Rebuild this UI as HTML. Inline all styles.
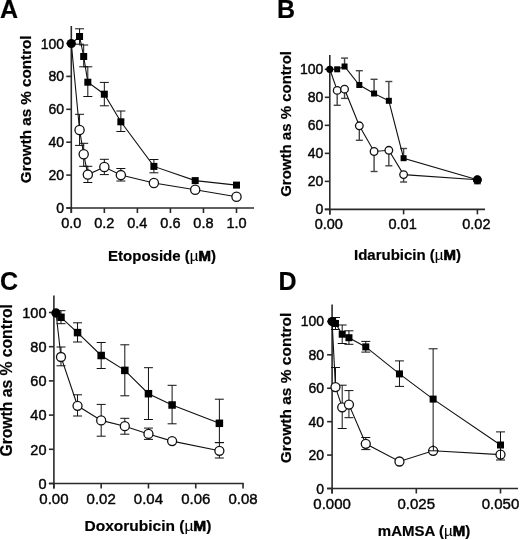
<!DOCTYPE html><html><head><meta charset="utf-8"><style>html,body{margin:0;padding:0;background:#fff;}svg{display:block;filter:grayscale(1) blur(0.3px);}text{font-family:"Liberation Sans", sans-serif;fill:#000;}text{stroke:#000;stroke-width:0.2px;}text.n{stroke:#111;stroke-width:0.45px;}tspan.mu{stroke-width:0.1px;}tspan.mm{stroke-width:0.7px;}</style></head><body>
<svg width="520" height="540" viewBox="0 0 520 540">
<rect width="520" height="540" fill="#fff"/>
<text x="0.00" y="17.50" font-size="25" text-anchor="start" font-weight="bold" >A</text>
<text transform="translate(31.00,109.30) rotate(-90)" font-size="15.2" text-anchor="middle" font-weight="bold">Growth as % control</text>
<text x="162.00" y="260.50" font-size="15" text-anchor="middle" font-weight="bold">Etoposide (<tspan font-weight="normal" class="mu">µ</tspan><tspan class="mm">M</tspan>)</text>
<line x1="71.30" y1="26.00" x2="71.30" y2="213.00" stroke="#2a2a2a" stroke-width="1.6"/>
<line x1="66.30" y1="208.00" x2="254.00" y2="208.00" stroke="#2a2a2a" stroke-width="1.6"/>
<line x1="66.30" y1="208.00" x2="71.30" y2="208.00" stroke="#2a2a2a" stroke-width="1.6"/>
<text x="64.00" y="213.00" font-size="14" text-anchor="end" font-weight="normal"  class="n">0</text>
<line x1="66.30" y1="175.10" x2="71.30" y2="175.10" stroke="#2a2a2a" stroke-width="1.6"/>
<text x="64.00" y="180.10" font-size="14" text-anchor="end" font-weight="normal"  class="n">20</text>
<line x1="66.30" y1="142.20" x2="71.30" y2="142.20" stroke="#2a2a2a" stroke-width="1.6"/>
<text x="64.00" y="147.20" font-size="14" text-anchor="end" font-weight="normal"  class="n">40</text>
<line x1="66.30" y1="109.30" x2="71.30" y2="109.30" stroke="#2a2a2a" stroke-width="1.6"/>
<text x="64.00" y="114.30" font-size="14" text-anchor="end" font-weight="normal"  class="n">60</text>
<line x1="66.30" y1="76.40" x2="71.30" y2="76.40" stroke="#2a2a2a" stroke-width="1.6"/>
<text x="64.00" y="81.40" font-size="14" text-anchor="end" font-weight="normal"  class="n">80</text>
<line x1="66.30" y1="43.50" x2="71.30" y2="43.50" stroke="#2a2a2a" stroke-width="1.6"/>
<text x="64.00" y="48.50" font-size="14" text-anchor="end" font-weight="normal"  class="n">100</text>
<line x1="71.30" y1="208.00" x2="71.30" y2="213.00" stroke="#2a2a2a" stroke-width="1.6"/>
<text x="71.30" y="228.30" font-size="14.5" text-anchor="middle" font-weight="normal"  class="n">0.0</text>
<line x1="104.34" y1="208.00" x2="104.34" y2="213.00" stroke="#2a2a2a" stroke-width="1.6"/>
<text x="104.34" y="228.30" font-size="14.5" text-anchor="middle" font-weight="normal"  class="n">0.2</text>
<line x1="137.38" y1="208.00" x2="137.38" y2="213.00" stroke="#2a2a2a" stroke-width="1.6"/>
<text x="137.38" y="228.30" font-size="14.5" text-anchor="middle" font-weight="normal"  class="n">0.4</text>
<line x1="170.42" y1="208.00" x2="170.42" y2="213.00" stroke="#2a2a2a" stroke-width="1.6"/>
<text x="170.42" y="228.30" font-size="14.5" text-anchor="middle" font-weight="normal"  class="n">0.6</text>
<line x1="203.46" y1="208.00" x2="203.46" y2="213.00" stroke="#2a2a2a" stroke-width="1.6"/>
<text x="203.46" y="228.30" font-size="14.5" text-anchor="middle" font-weight="normal"  class="n">0.8</text>
<line x1="236.50" y1="208.00" x2="236.50" y2="213.00" stroke="#2a2a2a" stroke-width="1.6"/>
<text x="236.50" y="228.30" font-size="14.5" text-anchor="middle" font-weight="normal"  class="n">1.0</text>
<line x1="79.56" y1="36.50" x2="79.56" y2="28.80" stroke="#111" stroke-width="1.0"/>
<line x1="75.06" y1="28.80" x2="84.06" y2="28.80" stroke="#111" stroke-width="1.0"/>
<line x1="79.56" y1="36.50" x2="79.56" y2="44.20" stroke="#111" stroke-width="1.0"/>
<line x1="75.06" y1="44.20" x2="84.06" y2="44.20" stroke="#111" stroke-width="1.0"/>
<line x1="83.69" y1="56.50" x2="83.69" y2="45.00" stroke="#111" stroke-width="1.0"/>
<line x1="79.19" y1="45.00" x2="88.19" y2="45.00" stroke="#111" stroke-width="1.0"/>
<line x1="83.69" y1="56.50" x2="83.69" y2="66.80" stroke="#111" stroke-width="1.0"/>
<line x1="79.19" y1="66.80" x2="88.19" y2="66.80" stroke="#111" stroke-width="1.0"/>
<line x1="87.82" y1="82.20" x2="87.82" y2="66.80" stroke="#111" stroke-width="1.0"/>
<line x1="83.32" y1="66.80" x2="92.32" y2="66.80" stroke="#111" stroke-width="1.0"/>
<line x1="87.82" y1="82.20" x2="87.82" y2="96.50" stroke="#111" stroke-width="1.0"/>
<line x1="83.32" y1="96.50" x2="92.32" y2="96.50" stroke="#111" stroke-width="1.0"/>
<line x1="104.34" y1="94.20" x2="104.34" y2="82.40" stroke="#111" stroke-width="1.0"/>
<line x1="99.84" y1="82.40" x2="108.84" y2="82.40" stroke="#111" stroke-width="1.0"/>
<line x1="104.34" y1="94.20" x2="104.34" y2="105.80" stroke="#111" stroke-width="1.0"/>
<line x1="99.84" y1="105.80" x2="108.84" y2="105.80" stroke="#111" stroke-width="1.0"/>
<line x1="120.86" y1="121.80" x2="120.86" y2="111.00" stroke="#111" stroke-width="1.0"/>
<line x1="116.36" y1="111.00" x2="125.36" y2="111.00" stroke="#111" stroke-width="1.0"/>
<line x1="120.86" y1="121.80" x2="120.86" y2="131.50" stroke="#111" stroke-width="1.0"/>
<line x1="116.36" y1="131.50" x2="125.36" y2="131.50" stroke="#111" stroke-width="1.0"/>
<line x1="153.90" y1="166.40" x2="153.90" y2="159.50" stroke="#111" stroke-width="1.0"/>
<line x1="149.40" y1="159.50" x2="158.40" y2="159.50" stroke="#111" stroke-width="1.0"/>
<line x1="153.90" y1="166.40" x2="153.90" y2="172.80" stroke="#111" stroke-width="1.0"/>
<line x1="149.40" y1="172.80" x2="158.40" y2="172.80" stroke="#111" stroke-width="1.0"/>
<line x1="79.56" y1="130.00" x2="79.56" y2="114.30" stroke="#111" stroke-width="1.0"/>
<line x1="75.06" y1="114.30" x2="84.06" y2="114.30" stroke="#111" stroke-width="1.0"/>
<line x1="79.56" y1="130.00" x2="79.56" y2="145.40" stroke="#111" stroke-width="1.0"/>
<line x1="75.06" y1="145.40" x2="84.06" y2="145.40" stroke="#111" stroke-width="1.0"/>
<line x1="83.69" y1="154.30" x2="83.69" y2="143.30" stroke="#111" stroke-width="1.0"/>
<line x1="79.19" y1="143.30" x2="88.19" y2="143.30" stroke="#111" stroke-width="1.0"/>
<line x1="83.69" y1="154.30" x2="83.69" y2="166.30" stroke="#111" stroke-width="1.0"/>
<line x1="79.19" y1="166.30" x2="88.19" y2="166.30" stroke="#111" stroke-width="1.0"/>
<line x1="87.82" y1="174.60" x2="87.82" y2="166.30" stroke="#111" stroke-width="1.0"/>
<line x1="83.32" y1="166.30" x2="92.32" y2="166.30" stroke="#111" stroke-width="1.0"/>
<line x1="87.82" y1="174.60" x2="87.82" y2="182.50" stroke="#111" stroke-width="1.0"/>
<line x1="83.32" y1="182.50" x2="92.32" y2="182.50" stroke="#111" stroke-width="1.0"/>
<line x1="104.34" y1="167.00" x2="104.34" y2="159.30" stroke="#111" stroke-width="1.0"/>
<line x1="99.84" y1="159.30" x2="108.84" y2="159.30" stroke="#111" stroke-width="1.0"/>
<line x1="104.34" y1="167.00" x2="104.34" y2="174.60" stroke="#111" stroke-width="1.0"/>
<line x1="99.84" y1="174.60" x2="108.84" y2="174.60" stroke="#111" stroke-width="1.0"/>
<line x1="120.86" y1="175.10" x2="120.86" y2="168.50" stroke="#111" stroke-width="1.0"/>
<line x1="116.36" y1="168.50" x2="125.36" y2="168.50" stroke="#111" stroke-width="1.0"/>
<line x1="120.86" y1="175.10" x2="120.86" y2="181.00" stroke="#111" stroke-width="1.0"/>
<line x1="116.36" y1="181.00" x2="125.36" y2="181.00" stroke="#111" stroke-width="1.0"/>
<polyline fill="none" stroke="#111" stroke-width="1.1" points="71.30,43.50 79.56,130.00 83.69,154.30 87.82,174.60 104.34,167.00 120.86,175.10 153.90,183.00 195.20,189.70 236.50,196.70"/>
<polyline fill="none" stroke="#111" stroke-width="1.1" points="71.30,43.50 79.56,36.50 83.69,56.50 87.82,82.20 104.34,94.20 120.86,121.80 153.90,166.40 195.20,180.60 236.50,185.10"/>
<circle cx="79.56" cy="130.00" r="4.6" fill="#fff" stroke="#111" stroke-width="1.3"/>
<circle cx="83.69" cy="154.30" r="4.6" fill="#fff" stroke="#111" stroke-width="1.3"/>
<circle cx="87.82" cy="174.60" r="4.6" fill="#fff" stroke="#111" stroke-width="1.3"/>
<circle cx="104.34" cy="167.00" r="4.6" fill="#fff" stroke="#111" stroke-width="1.3"/>
<circle cx="120.86" cy="175.10" r="4.6" fill="#fff" stroke="#111" stroke-width="1.3"/>
<circle cx="153.90" cy="183.00" r="4.6" fill="#fff" stroke="#111" stroke-width="1.3"/>
<circle cx="195.20" cy="189.70" r="4.6" fill="#fff" stroke="#111" stroke-width="1.3"/>
<circle cx="236.50" cy="196.70" r="4.6" fill="#fff" stroke="#111" stroke-width="1.3"/>
<rect x="76.06" y="33.00" width="7" height="7" fill="#000"/>
<rect x="80.19" y="53.00" width="7" height="7" fill="#000"/>
<rect x="84.32" y="78.70" width="7" height="7" fill="#000"/>
<rect x="100.84" y="90.70" width="7" height="7" fill="#000"/>
<rect x="117.36" y="118.30" width="7" height="7" fill="#000"/>
<rect x="150.40" y="162.90" width="7" height="7" fill="#000"/>
<rect x="191.70" y="177.10" width="7" height="7" fill="#000"/>
<rect x="233.00" y="181.60" width="7" height="7" fill="#000"/>
<circle cx="71.30" cy="43.50" r="4.6" fill="#000"/>
<text x="277.00" y="17.50" font-size="25" text-anchor="start" font-weight="bold" >B</text>
<text transform="translate(290.80,123.90) rotate(-90)" font-size="15" text-anchor="middle" font-weight="bold">Growth as % control</text>
<text x="407.50" y="260.00" font-size="15" text-anchor="middle" font-weight="bold">Idarubicin (<tspan font-weight="normal" class="mu">µ</tspan><tspan class="mm">M</tspan>)</text>
<line x1="329.80" y1="55.00" x2="329.80" y2="214.40" stroke="#2a2a2a" stroke-width="1.6"/>
<line x1="324.80" y1="209.40" x2="485.00" y2="209.40" stroke="#2a2a2a" stroke-width="1.6"/>
<line x1="324.80" y1="209.40" x2="329.80" y2="209.40" stroke="#2a2a2a" stroke-width="1.6"/>
<text x="323.30" y="214.40" font-size="14" text-anchor="end" font-weight="normal"  class="n">0</text>
<line x1="324.80" y1="181.38" x2="329.80" y2="181.38" stroke="#2a2a2a" stroke-width="1.6"/>
<text x="323.30" y="186.38" font-size="14" text-anchor="end" font-weight="normal"  class="n">20</text>
<line x1="324.80" y1="153.36" x2="329.80" y2="153.36" stroke="#2a2a2a" stroke-width="1.6"/>
<text x="323.30" y="158.36" font-size="14" text-anchor="end" font-weight="normal"  class="n">40</text>
<line x1="324.80" y1="125.34" x2="329.80" y2="125.34" stroke="#2a2a2a" stroke-width="1.6"/>
<text x="323.30" y="130.34" font-size="14" text-anchor="end" font-weight="normal"  class="n">60</text>
<line x1="324.80" y1="97.32" x2="329.80" y2="97.32" stroke="#2a2a2a" stroke-width="1.6"/>
<text x="323.30" y="102.32" font-size="14" text-anchor="end" font-weight="normal"  class="n">80</text>
<line x1="324.80" y1="69.30" x2="329.80" y2="69.30" stroke="#2a2a2a" stroke-width="1.6"/>
<text x="323.30" y="74.30" font-size="14" text-anchor="end" font-weight="normal"  class="n">100</text>
<line x1="329.80" y1="209.40" x2="329.80" y2="214.40" stroke="#2a2a2a" stroke-width="1.6"/>
<text x="328.80" y="228.50" font-size="14.5" text-anchor="middle" font-weight="normal"  class="n">0.00</text>
<line x1="403.60" y1="209.40" x2="403.60" y2="214.40" stroke="#2a2a2a" stroke-width="1.6"/>
<text x="402.60" y="228.50" font-size="14.5" text-anchor="middle" font-weight="normal"  class="n">0.01</text>
<line x1="477.40" y1="209.40" x2="477.40" y2="214.40" stroke="#2a2a2a" stroke-width="1.6"/>
<text x="476.40" y="228.50" font-size="14.5" text-anchor="middle" font-weight="normal"  class="n">0.02</text>
<line x1="344.56" y1="66.50" x2="344.56" y2="58.10" stroke="#444" stroke-width="1.4"/>
<line x1="341.06" y1="58.10" x2="348.06" y2="58.10" stroke="#444" stroke-width="1.4"/>
<line x1="359.32" y1="85.00" x2="359.32" y2="70.70" stroke="#444" stroke-width="1.4"/>
<line x1="355.82" y1="70.70" x2="362.82" y2="70.70" stroke="#444" stroke-width="1.4"/>
<line x1="374.08" y1="93.50" x2="374.08" y2="79.30" stroke="#444" stroke-width="1.4"/>
<line x1="370.58" y1="79.30" x2="377.58" y2="79.30" stroke="#444" stroke-width="1.4"/>
<line x1="388.84" y1="100.80" x2="388.84" y2="81.50" stroke="#444" stroke-width="1.4"/>
<line x1="385.34" y1="81.50" x2="392.34" y2="81.50" stroke="#444" stroke-width="1.4"/>
<line x1="403.60" y1="158.20" x2="403.60" y2="148.50" stroke="#444" stroke-width="1.4"/>
<line x1="400.10" y1="148.50" x2="407.10" y2="148.50" stroke="#444" stroke-width="1.4"/>
<line x1="337.18" y1="90.40" x2="337.18" y2="105.30" stroke="#444" stroke-width="1.4"/>
<line x1="333.68" y1="105.30" x2="340.68" y2="105.30" stroke="#444" stroke-width="1.4"/>
<line x1="344.56" y1="89.20" x2="344.56" y2="98.40" stroke="#444" stroke-width="1.4"/>
<line x1="341.06" y1="98.40" x2="348.06" y2="98.40" stroke="#444" stroke-width="1.4"/>
<line x1="359.32" y1="125.80" x2="359.32" y2="140.30" stroke="#444" stroke-width="1.4"/>
<line x1="355.82" y1="140.30" x2="362.82" y2="140.30" stroke="#444" stroke-width="1.4"/>
<line x1="374.08" y1="151.50" x2="374.08" y2="171.50" stroke="#444" stroke-width="1.4"/>
<line x1="370.58" y1="171.50" x2="377.58" y2="171.50" stroke="#444" stroke-width="1.4"/>
<line x1="388.84" y1="150.30" x2="388.84" y2="165.80" stroke="#444" stroke-width="1.4"/>
<line x1="385.34" y1="165.80" x2="392.34" y2="165.80" stroke="#444" stroke-width="1.4"/>
<line x1="403.60" y1="174.60" x2="403.60" y2="182.00" stroke="#444" stroke-width="1.4"/>
<line x1="400.10" y1="182.00" x2="407.10" y2="182.00" stroke="#444" stroke-width="1.4"/>
<line x1="477.40" y1="179.80" x2="477.40" y2="183.70" stroke="#444" stroke-width="1.4"/>
<line x1="473.90" y1="183.70" x2="480.90" y2="183.70" stroke="#444" stroke-width="1.4"/>
<polyline fill="none" stroke="#111" stroke-width="1.1" points="329.80,69.30 337.18,90.40 344.56,89.20 359.32,125.80 374.08,151.50 388.84,150.30 403.60,174.60 477.40,179.80"/>
<polyline fill="none" stroke="#111" stroke-width="1.1" points="329.80,69.30 337.18,69.30 344.56,66.50 359.32,85.00 374.08,93.50 388.84,100.80 403.60,158.20 477.40,179.80"/>
<circle cx="337.18" cy="90.40" r="3.8" fill="#fff" stroke="#111" stroke-width="1.3"/>
<circle cx="344.56" cy="89.20" r="3.8" fill="#fff" stroke="#111" stroke-width="1.3"/>
<circle cx="359.32" cy="125.80" r="3.8" fill="#fff" stroke="#111" stroke-width="1.3"/>
<circle cx="374.08" cy="151.50" r="3.8" fill="#fff" stroke="#111" stroke-width="1.3"/>
<circle cx="388.84" cy="150.30" r="3.8" fill="#fff" stroke="#111" stroke-width="1.3"/>
<circle cx="403.60" cy="174.60" r="3.8" fill="#fff" stroke="#111" stroke-width="1.3"/>
<circle cx="477.40" cy="179.80" r="3.8" fill="#fff" stroke="#111" stroke-width="1.3"/>
<rect x="334.18" y="66.30" width="6" height="6" fill="#000"/>
<rect x="341.56" y="63.50" width="6" height="6" fill="#000"/>
<rect x="356.32" y="82.00" width="6" height="6" fill="#000"/>
<rect x="371.08" y="90.50" width="6" height="6" fill="#000"/>
<rect x="385.84" y="97.80" width="6" height="6" fill="#000"/>
<rect x="400.60" y="155.20" width="6" height="6" fill="#000"/>
<rect x="474.40" y="176.80" width="6" height="6" fill="#000"/>
<circle cx="329.80" cy="69.30" r="3.6" fill="#000"/>
<circle cx="477.3" cy="179.8" r="4.3" fill="#000"/>
<text x="0.00" y="290.20" font-size="25" text-anchor="start" font-weight="bold" >C</text>
<text transform="translate(12.00,380.30) rotate(-90)" font-size="15.7" text-anchor="middle" font-weight="bold">Growth as % control</text>
<text x="148.00" y="531.20" font-size="15.5" text-anchor="middle" font-weight="bold">Doxorubicin (<tspan font-weight="normal" class="mu">µ</tspan><tspan class="mm">M</tspan>)</text>
<line x1="53.90" y1="295.50" x2="53.90" y2="488.50" stroke="#2a2a2a" stroke-width="1.6"/>
<line x1="48.90" y1="483.50" x2="243.80" y2="483.50" stroke="#2a2a2a" stroke-width="1.6"/>
<line x1="48.90" y1="483.50" x2="53.90" y2="483.50" stroke="#2a2a2a" stroke-width="1.6"/>
<text x="46.50" y="488.70" font-size="14.5" text-anchor="end" font-weight="normal"  class="n">0</text>
<line x1="48.90" y1="449.30" x2="53.90" y2="449.30" stroke="#2a2a2a" stroke-width="1.6"/>
<text x="46.50" y="454.50" font-size="14.5" text-anchor="end" font-weight="normal"  class="n">20</text>
<line x1="48.90" y1="415.10" x2="53.90" y2="415.10" stroke="#2a2a2a" stroke-width="1.6"/>
<text x="46.50" y="420.30" font-size="14.5" text-anchor="end" font-weight="normal"  class="n">40</text>
<line x1="48.90" y1="380.90" x2="53.90" y2="380.90" stroke="#2a2a2a" stroke-width="1.6"/>
<text x="46.50" y="386.10" font-size="14.5" text-anchor="end" font-weight="normal"  class="n">60</text>
<line x1="48.90" y1="346.70" x2="53.90" y2="346.70" stroke="#2a2a2a" stroke-width="1.6"/>
<text x="46.50" y="351.90" font-size="14.5" text-anchor="end" font-weight="normal"  class="n">80</text>
<line x1="48.90" y1="312.50" x2="53.90" y2="312.50" stroke="#2a2a2a" stroke-width="1.6"/>
<text x="46.50" y="317.70" font-size="14.5" text-anchor="end" font-weight="normal"  class="n">100</text>
<line x1="53.90" y1="483.50" x2="53.90" y2="488.50" stroke="#2a2a2a" stroke-width="1.6"/>
<text x="53.90" y="503.80" font-size="15" text-anchor="middle" font-weight="normal"  class="n">0.00</text>
<line x1="101.18" y1="483.50" x2="101.18" y2="488.50" stroke="#2a2a2a" stroke-width="1.6"/>
<text x="101.18" y="503.80" font-size="15" text-anchor="middle" font-weight="normal"  class="n">0.02</text>
<line x1="148.46" y1="483.50" x2="148.46" y2="488.50" stroke="#2a2a2a" stroke-width="1.6"/>
<text x="148.46" y="503.80" font-size="15" text-anchor="middle" font-weight="normal"  class="n">0.04</text>
<line x1="195.74" y1="483.50" x2="195.74" y2="488.50" stroke="#2a2a2a" stroke-width="1.6"/>
<text x="195.74" y="503.80" font-size="15" text-anchor="middle" font-weight="normal"  class="n">0.06</text>
<line x1="243.02" y1="483.50" x2="243.02" y2="488.50" stroke="#2a2a2a" stroke-width="1.6"/>
<text x="243.02" y="503.80" font-size="15" text-anchor="middle" font-weight="normal"  class="n">0.08</text>
<line x1="60.99" y1="317.30" x2="60.99" y2="310.70" stroke="#111" stroke-width="1.0"/>
<line x1="56.49" y1="310.70" x2="65.49" y2="310.70" stroke="#111" stroke-width="1.0"/>
<line x1="60.99" y1="317.30" x2="60.99" y2="323.70" stroke="#111" stroke-width="1.0"/>
<line x1="56.49" y1="323.70" x2="65.49" y2="323.70" stroke="#111" stroke-width="1.0"/>
<line x1="77.54" y1="332.60" x2="77.54" y2="322.80" stroke="#111" stroke-width="1.0"/>
<line x1="73.04" y1="322.80" x2="82.04" y2="322.80" stroke="#111" stroke-width="1.0"/>
<line x1="77.54" y1="332.60" x2="77.54" y2="342.00" stroke="#111" stroke-width="1.0"/>
<line x1="73.04" y1="342.00" x2="82.04" y2="342.00" stroke="#111" stroke-width="1.0"/>
<line x1="101.18" y1="355.50" x2="101.18" y2="342.50" stroke="#111" stroke-width="1.0"/>
<line x1="96.68" y1="342.50" x2="105.68" y2="342.50" stroke="#111" stroke-width="1.0"/>
<line x1="101.18" y1="355.50" x2="101.18" y2="368.50" stroke="#111" stroke-width="1.0"/>
<line x1="96.68" y1="368.50" x2="105.68" y2="368.50" stroke="#111" stroke-width="1.0"/>
<line x1="124.82" y1="370.40" x2="124.82" y2="344.80" stroke="#111" stroke-width="1.0"/>
<line x1="120.32" y1="344.80" x2="129.32" y2="344.80" stroke="#111" stroke-width="1.0"/>
<line x1="124.82" y1="370.40" x2="124.82" y2="395.80" stroke="#111" stroke-width="1.0"/>
<line x1="120.32" y1="395.80" x2="129.32" y2="395.80" stroke="#111" stroke-width="1.0"/>
<line x1="148.46" y1="393.70" x2="148.46" y2="367.70" stroke="#111" stroke-width="1.0"/>
<line x1="143.96" y1="367.70" x2="152.96" y2="367.70" stroke="#111" stroke-width="1.0"/>
<line x1="148.46" y1="393.70" x2="148.46" y2="419.50" stroke="#111" stroke-width="1.0"/>
<line x1="143.96" y1="419.50" x2="152.96" y2="419.50" stroke="#111" stroke-width="1.0"/>
<line x1="172.10" y1="405.00" x2="172.10" y2="385.30" stroke="#111" stroke-width="1.0"/>
<line x1="167.60" y1="385.30" x2="176.60" y2="385.30" stroke="#111" stroke-width="1.0"/>
<line x1="172.10" y1="405.00" x2="172.10" y2="423.80" stroke="#111" stroke-width="1.0"/>
<line x1="167.60" y1="423.80" x2="176.60" y2="423.80" stroke="#111" stroke-width="1.0"/>
<line x1="219.38" y1="423.30" x2="219.38" y2="399.20" stroke="#111" stroke-width="1.0"/>
<line x1="214.88" y1="399.20" x2="223.88" y2="399.20" stroke="#111" stroke-width="1.0"/>
<line x1="219.38" y1="423.30" x2="219.38" y2="442.60" stroke="#111" stroke-width="1.0"/>
<line x1="214.88" y1="442.60" x2="223.88" y2="442.60" stroke="#111" stroke-width="1.0"/>
<line x1="60.99" y1="357.00" x2="60.99" y2="347.00" stroke="#111" stroke-width="1.0"/>
<line x1="56.49" y1="347.00" x2="65.49" y2="347.00" stroke="#111" stroke-width="1.0"/>
<line x1="60.99" y1="357.00" x2="60.99" y2="365.80" stroke="#111" stroke-width="1.0"/>
<line x1="56.49" y1="365.80" x2="65.49" y2="365.80" stroke="#111" stroke-width="1.0"/>
<line x1="77.54" y1="405.80" x2="77.54" y2="394.80" stroke="#111" stroke-width="1.0"/>
<line x1="73.04" y1="394.80" x2="82.04" y2="394.80" stroke="#111" stroke-width="1.0"/>
<line x1="77.54" y1="405.80" x2="77.54" y2="416.00" stroke="#111" stroke-width="1.0"/>
<line x1="73.04" y1="416.00" x2="82.04" y2="416.00" stroke="#111" stroke-width="1.0"/>
<line x1="101.18" y1="420.40" x2="101.18" y2="404.40" stroke="#111" stroke-width="1.0"/>
<line x1="96.68" y1="404.40" x2="105.68" y2="404.40" stroke="#111" stroke-width="1.0"/>
<line x1="101.18" y1="420.40" x2="101.18" y2="436.20" stroke="#111" stroke-width="1.0"/>
<line x1="96.68" y1="436.20" x2="105.68" y2="436.20" stroke="#111" stroke-width="1.0"/>
<line x1="124.82" y1="426.20" x2="124.82" y2="418.30" stroke="#111" stroke-width="1.0"/>
<line x1="120.32" y1="418.30" x2="129.32" y2="418.30" stroke="#111" stroke-width="1.0"/>
<line x1="124.82" y1="426.20" x2="124.82" y2="434.20" stroke="#111" stroke-width="1.0"/>
<line x1="120.32" y1="434.20" x2="129.32" y2="434.20" stroke="#111" stroke-width="1.0"/>
<line x1="148.46" y1="433.90" x2="148.46" y2="428.10" stroke="#111" stroke-width="1.0"/>
<line x1="143.96" y1="428.10" x2="152.96" y2="428.10" stroke="#111" stroke-width="1.0"/>
<line x1="148.46" y1="433.90" x2="148.46" y2="439.40" stroke="#111" stroke-width="1.0"/>
<line x1="143.96" y1="439.40" x2="152.96" y2="439.40" stroke="#111" stroke-width="1.0"/>
<line x1="219.38" y1="450.80" x2="219.38" y2="442.60" stroke="#111" stroke-width="1.0"/>
<line x1="214.88" y1="442.60" x2="223.88" y2="442.60" stroke="#111" stroke-width="1.0"/>
<line x1="219.38" y1="450.80" x2="219.38" y2="458.00" stroke="#111" stroke-width="1.0"/>
<line x1="214.88" y1="458.00" x2="223.88" y2="458.00" stroke="#111" stroke-width="1.0"/>
<polyline fill="none" stroke="#111" stroke-width="1.1" points="56.03,313.00 60.99,357.00 77.54,405.80 101.18,420.40 124.82,426.20 148.46,433.90 172.10,441.10 219.38,450.80"/>
<polyline fill="none" stroke="#111" stroke-width="1.1" points="56.03,313.00 60.99,317.30 77.54,332.60 101.18,355.50 124.82,370.40 148.46,393.70 172.10,405.00 219.38,423.30"/>
<circle cx="60.99" cy="357.00" r="4.5" fill="#fff" stroke="#111" stroke-width="1.3"/>
<circle cx="77.54" cy="405.80" r="4.5" fill="#fff" stroke="#111" stroke-width="1.3"/>
<circle cx="101.18" cy="420.40" r="4.5" fill="#fff" stroke="#111" stroke-width="1.3"/>
<circle cx="124.82" cy="426.20" r="4.5" fill="#fff" stroke="#111" stroke-width="1.3"/>
<circle cx="148.46" cy="433.90" r="4.5" fill="#fff" stroke="#111" stroke-width="1.3"/>
<circle cx="172.10" cy="441.10" r="4.5" fill="#fff" stroke="#111" stroke-width="1.3"/>
<circle cx="219.38" cy="450.80" r="4.5" fill="#fff" stroke="#111" stroke-width="1.3"/>
<rect x="57.24" y="313.55" width="7.5" height="7.5" fill="#000"/>
<rect x="73.79" y="328.85" width="7.5" height="7.5" fill="#000"/>
<rect x="97.43" y="351.75" width="7.5" height="7.5" fill="#000"/>
<rect x="121.07" y="366.65" width="7.5" height="7.5" fill="#000"/>
<rect x="144.71" y="389.95" width="7.5" height="7.5" fill="#000"/>
<rect x="168.35" y="401.25" width="7.5" height="7.5" fill="#000"/>
<rect x="215.63" y="419.55" width="7.5" height="7.5" fill="#000"/>
<circle cx="56.03" cy="313.00" r="4.7" fill="#000"/>
<text x="278.40" y="290.00" font-size="25" text-anchor="start" font-weight="bold" >D</text>
<text transform="translate(291.00,388.00) rotate(-90)" font-size="15.5" text-anchor="middle" font-weight="bold">Growth as % control</text>
<text x="424.00" y="536.20" font-size="15" text-anchor="middle" font-weight="bold">mAMSA (<tspan font-weight="normal" class="mu">µ</tspan><tspan class="mm">M</tspan>)</text>
<line x1="332.10" y1="304.60" x2="332.10" y2="493.50" stroke="#2a2a2a" stroke-width="1.6"/>
<line x1="327.10" y1="488.50" x2="518.00" y2="488.50" stroke="#2a2a2a" stroke-width="1.6"/>
<line x1="327.10" y1="488.50" x2="332.10" y2="488.50" stroke="#2a2a2a" stroke-width="1.6"/>
<text x="324.00" y="493.50" font-size="14" text-anchor="end" font-weight="normal"  class="n">0</text>
<line x1="327.10" y1="455.08" x2="332.10" y2="455.08" stroke="#2a2a2a" stroke-width="1.6"/>
<text x="324.00" y="460.08" font-size="14" text-anchor="end" font-weight="normal"  class="n">20</text>
<line x1="327.10" y1="421.66" x2="332.10" y2="421.66" stroke="#2a2a2a" stroke-width="1.6"/>
<text x="324.00" y="426.66" font-size="14" text-anchor="end" font-weight="normal"  class="n">40</text>
<line x1="327.10" y1="388.24" x2="332.10" y2="388.24" stroke="#2a2a2a" stroke-width="1.6"/>
<text x="324.00" y="393.24" font-size="14" text-anchor="end" font-weight="normal"  class="n">60</text>
<line x1="327.10" y1="354.82" x2="332.10" y2="354.82" stroke="#2a2a2a" stroke-width="1.6"/>
<text x="324.00" y="359.82" font-size="14" text-anchor="end" font-weight="normal"  class="n">80</text>
<line x1="327.10" y1="321.40" x2="332.10" y2="321.40" stroke="#2a2a2a" stroke-width="1.6"/>
<text x="324.00" y="326.40" font-size="14" text-anchor="end" font-weight="normal"  class="n">100</text>
<line x1="332.10" y1="488.50" x2="332.10" y2="493.50" stroke="#2a2a2a" stroke-width="1.6"/>
<text x="332.10" y="508.80" font-size="15" text-anchor="middle" font-weight="normal"  class="n">0.000</text>
<line x1="416.30" y1="488.50" x2="416.30" y2="493.50" stroke="#2a2a2a" stroke-width="1.6"/>
<text x="416.30" y="508.80" font-size="15" text-anchor="middle" font-weight="normal"  class="n">0.025</text>
<line x1="500.50" y1="488.50" x2="500.50" y2="493.50" stroke="#2a2a2a" stroke-width="1.6"/>
<text x="500.50" y="508.80" font-size="15" text-anchor="middle" font-weight="normal"  class="n">0.050</text>
<line x1="335.47" y1="323.50" x2="335.47" y2="317.50" stroke="#111" stroke-width="1.0"/>
<line x1="330.97" y1="317.50" x2="339.97" y2="317.50" stroke="#111" stroke-width="1.0"/>
<line x1="335.47" y1="323.50" x2="335.47" y2="329.50" stroke="#111" stroke-width="1.0"/>
<line x1="330.97" y1="329.50" x2="339.97" y2="329.50" stroke="#111" stroke-width="1.0"/>
<line x1="342.20" y1="334.20" x2="342.20" y2="325.00" stroke="#111" stroke-width="1.0"/>
<line x1="337.70" y1="325.00" x2="346.70" y2="325.00" stroke="#111" stroke-width="1.0"/>
<line x1="342.20" y1="334.20" x2="342.20" y2="343.50" stroke="#111" stroke-width="1.0"/>
<line x1="337.70" y1="343.50" x2="346.70" y2="343.50" stroke="#111" stroke-width="1.0"/>
<line x1="348.94" y1="337.70" x2="348.94" y2="330.80" stroke="#111" stroke-width="1.0"/>
<line x1="344.44" y1="330.80" x2="353.44" y2="330.80" stroke="#111" stroke-width="1.0"/>
<line x1="348.94" y1="337.70" x2="348.94" y2="344.30" stroke="#111" stroke-width="1.0"/>
<line x1="344.44" y1="344.30" x2="353.44" y2="344.30" stroke="#111" stroke-width="1.0"/>
<line x1="365.78" y1="346.90" x2="365.78" y2="341.40" stroke="#111" stroke-width="1.0"/>
<line x1="361.28" y1="341.40" x2="370.28" y2="341.40" stroke="#111" stroke-width="1.0"/>
<line x1="365.78" y1="346.90" x2="365.78" y2="352.10" stroke="#111" stroke-width="1.0"/>
<line x1="361.28" y1="352.10" x2="370.28" y2="352.10" stroke="#111" stroke-width="1.0"/>
<line x1="399.46" y1="373.90" x2="399.46" y2="360.90" stroke="#111" stroke-width="1.0"/>
<line x1="394.96" y1="360.90" x2="403.96" y2="360.90" stroke="#111" stroke-width="1.0"/>
<line x1="399.46" y1="373.90" x2="399.46" y2="386.40" stroke="#111" stroke-width="1.0"/>
<line x1="394.96" y1="386.40" x2="403.96" y2="386.40" stroke="#111" stroke-width="1.0"/>
<line x1="433.14" y1="399.10" x2="433.14" y2="348.80" stroke="#111" stroke-width="1.0"/>
<line x1="428.64" y1="348.80" x2="437.64" y2="348.80" stroke="#111" stroke-width="1.0"/>
<line x1="433.14" y1="399.10" x2="433.14" y2="450.80" stroke="#111" stroke-width="1.0"/>
<line x1="428.64" y1="450.80" x2="437.64" y2="450.80" stroke="#111" stroke-width="1.0"/>
<line x1="500.50" y1="445.00" x2="500.50" y2="431.90" stroke="#111" stroke-width="1.0"/>
<line x1="496.00" y1="431.90" x2="505.00" y2="431.90" stroke="#111" stroke-width="1.0"/>
<line x1="335.47" y1="387.10" x2="335.47" y2="367.50" stroke="#111" stroke-width="1.0"/>
<line x1="330.97" y1="367.50" x2="339.97" y2="367.50" stroke="#111" stroke-width="1.0"/>
<line x1="342.20" y1="407.30" x2="342.20" y2="385.20" stroke="#111" stroke-width="1.0"/>
<line x1="337.70" y1="385.20" x2="346.70" y2="385.20" stroke="#111" stroke-width="1.0"/>
<line x1="342.20" y1="407.30" x2="342.20" y2="428.50" stroke="#111" stroke-width="1.0"/>
<line x1="337.70" y1="428.50" x2="346.70" y2="428.50" stroke="#111" stroke-width="1.0"/>
<line x1="348.94" y1="404.60" x2="348.94" y2="390.60" stroke="#111" stroke-width="1.0"/>
<line x1="344.44" y1="390.60" x2="353.44" y2="390.60" stroke="#111" stroke-width="1.0"/>
<line x1="348.94" y1="404.60" x2="348.94" y2="417.70" stroke="#111" stroke-width="1.0"/>
<line x1="344.44" y1="417.70" x2="353.44" y2="417.70" stroke="#111" stroke-width="1.0"/>
<line x1="365.78" y1="443.80" x2="365.78" y2="437.50" stroke="#111" stroke-width="1.0"/>
<line x1="361.28" y1="437.50" x2="370.28" y2="437.50" stroke="#111" stroke-width="1.0"/>
<line x1="365.78" y1="443.80" x2="365.78" y2="449.60" stroke="#111" stroke-width="1.0"/>
<line x1="361.28" y1="449.60" x2="370.28" y2="449.60" stroke="#111" stroke-width="1.0"/>
<line x1="500.50" y1="454.60" x2="500.50" y2="460.00" stroke="#111" stroke-width="1.0"/>
<line x1="496.00" y1="460.00" x2="505.00" y2="460.00" stroke="#111" stroke-width="1.0"/>
<polyline fill="none" stroke="#111" stroke-width="1.1" points="332.10,321.60 335.47,387.10 342.20,407.30 348.94,404.60 365.78,443.80 399.46,461.50 433.14,450.80 500.50,454.60"/>
<polyline fill="none" stroke="#111" stroke-width="1.1" points="332.10,321.60 335.47,323.50 342.20,334.20 348.94,337.70 365.78,346.90 399.46,373.90 433.14,399.10 500.50,445.00"/>
<circle cx="335.47" cy="387.10" r="4.5" fill="#fff" stroke="#111" stroke-width="1.3"/>
<circle cx="342.20" cy="407.30" r="4.5" fill="#fff" stroke="#111" stroke-width="1.3"/>
<circle cx="348.94" cy="404.60" r="4.5" fill="#fff" stroke="#111" stroke-width="1.3"/>
<circle cx="365.78" cy="443.80" r="4.5" fill="#fff" stroke="#111" stroke-width="1.3"/>
<circle cx="399.46" cy="461.50" r="4.5" fill="#fff" stroke="#111" stroke-width="1.3"/>
<circle cx="433.14" cy="450.80" r="4.5" fill="#fff" stroke="#111" stroke-width="1.3"/>
<circle cx="500.50" cy="454.60" r="4.5" fill="#fff" stroke="#111" stroke-width="1.3"/>
<rect x="331.97" y="320.00" width="7" height="7" fill="#000"/>
<rect x="338.70" y="330.70" width="7" height="7" fill="#000"/>
<rect x="345.44" y="334.20" width="7" height="7" fill="#000"/>
<rect x="362.28" y="343.40" width="7" height="7" fill="#000"/>
<rect x="395.96" y="370.40" width="7" height="7" fill="#000"/>
<rect x="429.64" y="395.60" width="7" height="7" fill="#000"/>
<rect x="497.00" y="441.50" width="7" height="7" fill="#000"/>
<circle cx="332.10" cy="321.60" r="4.6" fill="#000"/>
<line x1="500.5" y1="445" x2="500.5" y2="460" stroke="#111" stroke-width="1"/>
<line x1="428.6" y1="450.8" x2="438.6" y2="450.8" stroke="#111" stroke-width="1"/>
<line x1="433.4" y1="445" x2="433.4" y2="450.8" stroke="#111" stroke-width="1"/>
</svg></body></html>
